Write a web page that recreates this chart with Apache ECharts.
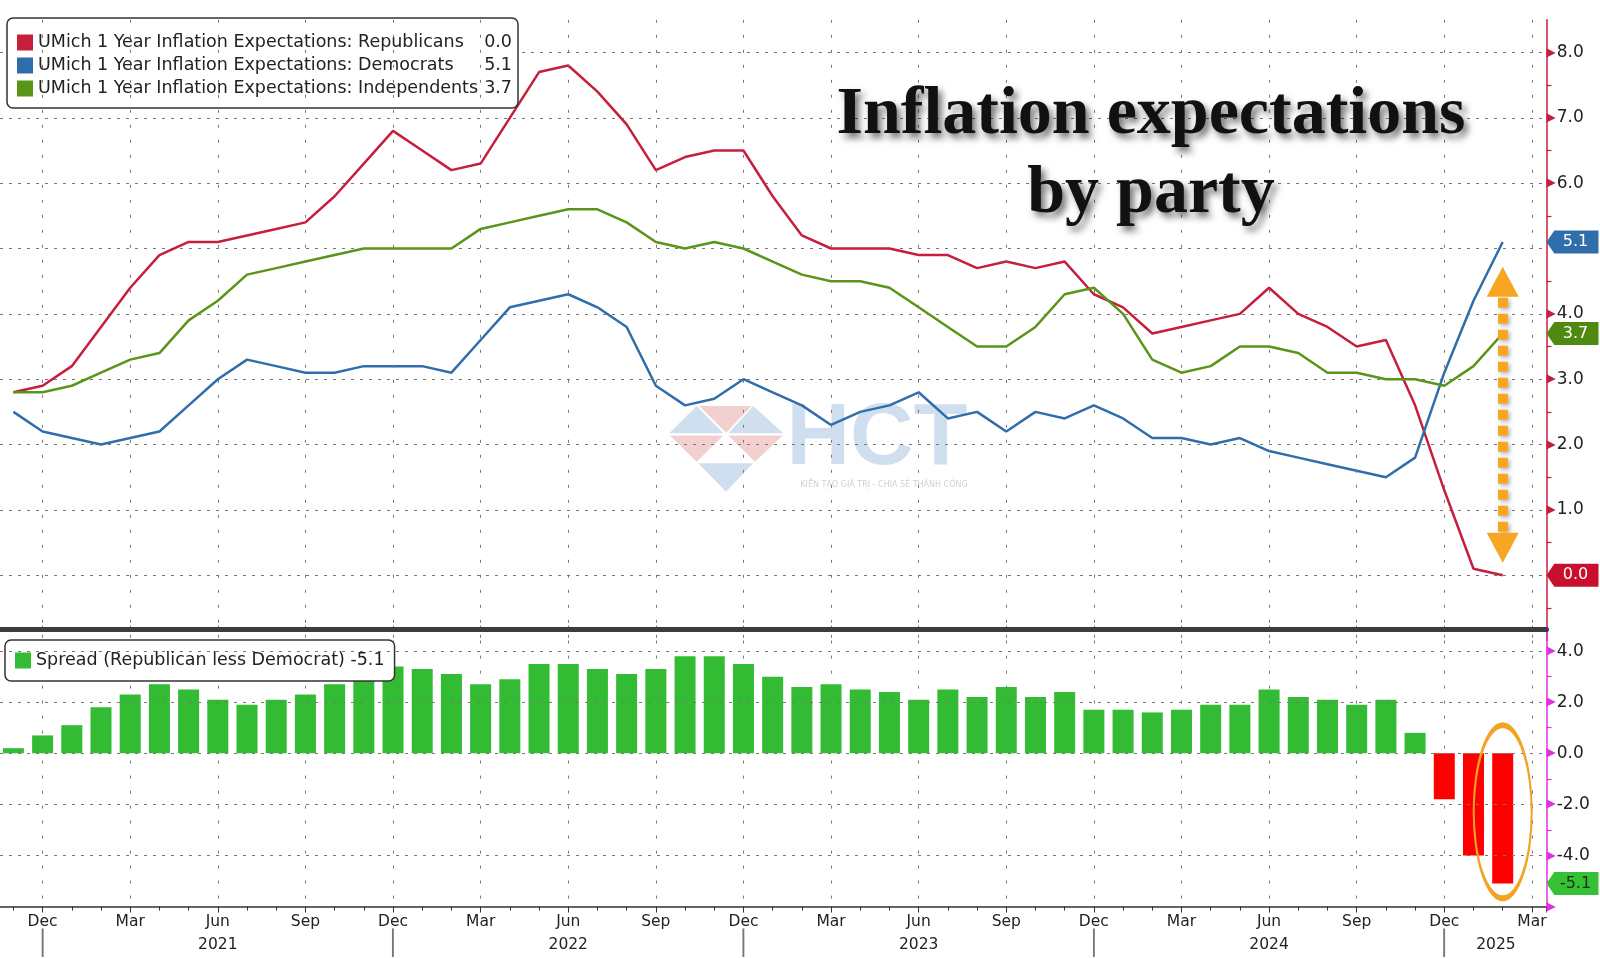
<!DOCTYPE html>
<html>
<head>
<meta charset="utf-8">
<script src="https://cdn.jsdelivr.net/npm/echarts@6/dist/echarts.min.js"></script>
<style>html,body{margin:0;padding:0;background:#fff}#c{width:1600px;height:958px}</style>
</head>
<body>
<div id="c"></div>
<script>
// ---- data (monthly, Nov 2020 .. Feb 2025) ----
const monthNames = ['Jan','Feb','Mar','Apr','May','Jun','Jul','Aug','Sep','Oct','Nov','Dec'];
const firstMonth = { year: 2020, month: 10 }; // Nov 2020 (0-based month)
const republicans = [2.8, 2.9,
  3.2, 3.8, 4.4, 4.9, 5.1, 5.1, 5.2, 5.3, 5.4, 5.8, 6.3, 6.8,
  6.5, 6.2, 6.3, 7.0, 7.7, 7.8, 7.4, 6.9, 6.2, 6.4, 6.5, 6.5,
  5.8, 5.2, 5.0, 5.0, 5.0, 4.9, 4.9, 4.7, 4.8, 4.7, 4.8, 4.3,
  4.1, 3.7, 3.8, 3.9, 4.0, 4.4, 4.0, 3.8, 3.5, 3.6, 2.6, 1.3,
  0.1, 0.0];
const democrats = [2.5, 2.2,
  2.1, 2.0, 2.1, 2.2, 2.6, 3.0, 3.3, 3.2, 3.1, 3.1, 3.2, 3.2,
  3.2, 3.1, 3.6, 4.1, 4.2, 4.3, 4.1, 3.8, 2.9, 2.6, 2.7, 3.0,
  2.8, 2.6, 2.3, 2.5, 2.6, 2.8, 2.4, 2.5, 2.2, 2.5, 2.4, 2.6,
  2.4, 2.1, 2.1, 2.0, 2.1, 1.9, 1.8, 1.7, 1.6, 1.5, 1.8, 3.1,
  4.2, 5.1];
const independents = [2.8, 2.8,
  2.9, 3.1, 3.3, 3.4, 3.9, 4.2, 4.6, 4.7, 4.8, 4.9, 5.0, 5.0,
  5.0, 5.0, 5.3, 5.4, 5.5, 5.6, 5.6, 5.4, 5.1, 5.0, 5.1, 5.0,
  4.8, 4.6, 4.5, 4.5, 4.4, 4.1, 3.8, 3.5, 3.5, 3.8, 4.3, 4.4,
  4.0, 3.3, 3.1, 3.2, 3.5, 3.5, 3.4, 3.1, 3.1, 3.0, 3.0, 2.9,
  3.2, 3.7];
const spread = [0.2, 0.7,
  1.1, 1.8, 2.3, 2.7, 2.5, 2.1, 1.9, 2.1, 2.3, 2.7, 3.0, 3.4,
  3.3, 3.1, 2.7, 2.9, 3.5, 3.5, 3.3, 3.1, 3.3, 3.8, 3.8, 3.5,
  3.0, 2.6, 2.7, 2.5, 2.4, 2.1, 2.5, 2.2, 2.6, 2.2, 2.4, 1.7,
  1.7, 1.6, 1.7, 1.9, 1.9, 2.5, 2.2, 2.1, 1.9, 2.1, 0.8, -1.8,
  -4.0, -5.1];
const lineNames = [
  'UMich 1 Year Inflation Expectations: Republicans',
  'UMich 1 Year Inflation Expectations: Democrats',
  'UMich 1 Year Inflation Expectations: Independents'
];
const spreadName = 'Spread (Republican less Democrat)';
const titleLines = ['Inflation expectations', 'by party'];

// ---- axis helpers: x value = months since Sep 2020 ----
const axisOrigin = { year: 2020, month: 8 };
const xOffset = (firstMonth.year - axisOrigin.year) * 12 + firstMonth.month - axisOrigin.month;
const xMin = 0, xMax = 54.5;
const toXY = arr => arr.map((v, i) => [i + xOffset, v]);
const last = arr => arr[arr.length - 1];
const lastX = republicans.length - 1 + xOffset;

const FONT = 'DejaVu Sans';
const C_RED = '#c51f3c', C_BLUE = '#2f6eaa', C_GREEN = '#5a9419';
const TAG = 'path://M0,11 L9,0 L60,0 L60,22 L9,22 Z';

function xLabel(v) {
  if (!Number.isInteger(v)) return '';
  const m = (axisOrigin.month + v) % 12;
  const y = axisOrigin.year + Math.floor((axisOrigin.month + v) / 12);
  const n = monthNames[m];
  if (m === 11) return n + '\n{sep|\u2502}';
  if (m === 5) return n + '\n{yr|' + y + '}';
  if (v === 54) return n + '\n{yr2|' + y + '}';
  return n;
}
function tag(series, color, textColor) {
  return {
    coord: [xMax, last(series)], value: last(series),
    symbol: TAG, symbolSize: [52, 23], symbolOffset: ['50%', 0],
    itemStyle: { color: color },
    label: { show: true, position: 'inside', offset: [3, 0], color: textColor || '#fff',
      fontSize: 16, fontFamily: FONT, formatter: p => Number(p.value).toFixed(1) }
  };
}
const legendVals = {};
legendVals[lineNames[0]] = last(republicans).toFixed(1);
legendVals[lineNames[1]] = last(democrats).toFixed(1);
legendVals[lineNames[2]] = last(independents).toFixed(1);
legendVals[spreadName] = last(spread).toFixed(1);

const dotH = { color: '#777', width: 1, type: [3, 6] };
const dotV = { color: '#777', width: 1, type: [3, 12] };
const LFS = 17.5;

const chart = echarts.init(document.getElementById('c'), null, { renderer: 'canvas' });
chart.setOption({
  animation: false,
  backgroundColor: '#fff',
  textStyle: { fontFamily: FONT },
  grid: [
    { left: -45, top: 19.8, width: 1591.5, height: 620.8, outerBoundsMode: 'none', containLabel: false },
    { left: -45, top: 625.6, width: 1591.5, height: 280.9, outerBoundsMode: 'none', containLabel: false }
  ],
  xAxis: [
    { type: 'value', gridIndex: 0, min: xMin, max: xMax, interval: 3, z: 6,
      axisLine: { show: true, onZero: false, lineStyle: { color: '#3c3c3c', width: 5 } },
      offset: -11.6,
      axisTick: { show: false }, axisLabel: { show: false },
      splitLine: { show: true, lineStyle: dotV, showMinLine: false, showMaxLine: false } },
    { type: 'value', gridIndex: 1, min: xMin, max: xMax, interval: 3,
      axisLine: { show: true, onZero: false, lineStyle: { color: '#333', width: 1.5 } },
      axisTick: { show: true, length: 6, lineStyle: { color: '#333' } },
      minorTick: { show: true, splitNumber: 3, length: 4, lineStyle: { color: '#333' } },
      axisLabel: { show: true, margin: 4, fontSize: 15.5, color: '#222', lineHeight: 23,
        showMaxLabel: false, showMinLabel: false, formatter: xLabel,
        rich: {
          sep: { fontSize: 24, color: '#777', lineHeight: 23 },
          yr: { fontSize: 15.5, color: '#222', lineHeight: 23 },
          yr2: { fontSize: 15.5, color: '#222', lineHeight: 23, padding: [0, 72, 0, 0] }
        } },
      splitLine: { show: true, lineStyle: dotV, showMinLine: false, showMaxLine: false } }
  ],
  yAxis: [
    { type: 'value', gridIndex: 0, position: 'right', min: -1, max: 8.5, interval: 1, z: 2,
      axisLine: { show: true, onZero: false, lineStyle: { color: C_RED, width: 1.5 } },
      axisTick: { show: false },
      minorTick: { show: true, splitNumber: 2, length: 5, lineStyle: { color: C_RED, width: 1.2 } },
      axisLabel: { show: true, margin: 0, showMinLabel: false, showMaxLabel: false,
        formatter: v => (Number.isInteger(v) && v >= 1 && v <= 8 && v !== 5) ? '{t|\u25B6}{v|' + v.toFixed(1) + '}' : '',
        rich: { t: { color: C_RED, fontSize: 12, padding: [0, 1, 0, 0] },
                v: { color: '#222', fontSize: 17, fontFamily: FONT } } },
      splitLine: { show: true, lineStyle: dotH, showMinLine: false, showMaxLine: false } },
    { type: 'value', gridIndex: 1, position: 'right', min: -6, max: 5, interval: 2, z: 4,
      axisLine: { show: true, onZero: false, lineStyle: { color: '#e030e0', width: 1.5 } },
      axisTick: { show: false },
      minorTick: { show: true, splitNumber: 2, length: 5, lineStyle: { color: '#e030e0', width: 1.2 } },
      axisLabel: { show: true, margin: 0, showMaxLabel: false,
        formatter: v => v === -6 ? '{t|\u25B6}' : ((v >= -4 && v <= 4) ? '{t|\u25B6}{v|' + v.toFixed(1) + '}' : ''),
        rich: { t: { color: '#e030e0', fontSize: 12, padding: [0, 1, 0, 0] },
                v: { color: '#222', fontSize: 17, fontFamily: FONT } } },
      splitLine: { show: true, lineStyle: dotH, showMinLine: false, showMaxLine: false } }
  ],
  legend: [
    { data: lineNames, left: 7, top: 18, orient: 'vertical', icon: 'rect',
      itemWidth: 16, itemHeight: 16, itemGap: 0, padding: [13, 6, 8, 10],
      backgroundColor: '#fff', borderColor: '#333', borderWidth: 1.5, borderRadius: 6,
      selectedMode: false,
      formatter: n => '{n|' + n + '}{v|' + legendVals[n] + '}',
      textStyle: { fontFamily: FONT, fontSize: LFS, color: '#222', lineHeight: 23,
        rich: { n: { width: 442, fontSize: LFS, fontFamily: FONT, color: '#222', lineHeight: 23 },
                v: { width: 32, align: 'right', fontSize: LFS, fontFamily: FONT, color: '#222', lineHeight: 23 } } } },
    { data: [spreadName], left: 5, top: 640, orient: 'vertical', icon: 'rect',
      itemWidth: 16, itemHeight: 16, padding: [10, 10, 10, 10],
      backgroundColor: '#fff', borderColor: '#333', borderWidth: 1.5, borderRadius: 6,
      selectedMode: false,
      formatter: n => n + ' ' + legendVals[n],
      textStyle: { fontFamily: FONT, fontSize: LFS, color: '#222', lineHeight: 21 } }
  ],
  graphic: [
    // watermark
    { type: 'polygon', z: 1, silent: true, shape: { points: [[696.7,406],[669.3,433.3],[723.3,433.3]] }, style: { fill: 'rgba(150,185,222,0.45)' } },
    { type: 'polygon', z: 1, silent: true, shape: { points: [[699.3,406],[751.7,406],[726,432.7]] }, style: { fill: 'rgba(226,150,150,0.45)' } },
    { type: 'polygon', z: 1, silent: true, shape: { points: [[753.3,406],[783.3,433.3],[728.3,433.3]] }, style: { fill: 'rgba(150,185,222,0.45)' } },
    { type: 'polygon', z: 1, silent: true, shape: { points: [[670,435.5],[723.3,435.5],[696.7,461.7]] }, style: { fill: 'rgba(226,150,150,0.45)' } },
    { type: 'polygon', z: 1, silent: true, shape: { points: [[728.3,435.5],[782.7,435.5],[755,461.7]] }, style: { fill: 'rgba(226,150,150,0.45)' } },
    { type: 'polygon', z: 1, silent: true, shape: { points: [[698.3,463.3],[753.3,463.3],[726,491.7]] }, style: { fill: 'rgba(150,185,222,0.45)' } },
    { type: 'text', z: 1, silent: true, x: 877, y: 440,
      style: { text: 'HCT', font: 'bold 88px "Liberation Sans"', fill: 'rgba(150,185,222,0.45)', align: 'center', verticalAlign: 'middle', textAlign: 'center', textVerticalAlign: 'middle' } },
    { type: 'text', z: 1, silent: true, x: 884, y: 485,
      style: { text: 'KIẾN TẠO GIÁ TRỊ - CHIA SẺ THÀNH CÔNG', font: '8px "DejaVu Sans"', fill: 'rgba(150,150,150,0.45)', align: 'center', verticalAlign: 'middle', textAlign: 'center', textVerticalAlign: 'middle' } },
    // title
    { type: 'text', z: 20, silent: true, x: 1151, y: 115,
      style: { text: titleLines[0], font: 'bold 68px "Liberation Serif"', fill: '#111',
        align: 'center', verticalAlign: 'middle', textAlign: 'center', textVerticalAlign: 'middle',
        textShadowColor: 'rgba(0,0,0,0.55)', textShadowBlur: 7, textShadowOffsetX: 4, textShadowOffsetY: 5 } },
    { type: 'text', z: 20, silent: true, x: 1151, y: 194,
      style: { text: titleLines[1], font: 'bold 68px "Liberation Serif"', fill: '#111',
        align: 'center', verticalAlign: 'middle', textAlign: 'center', textVerticalAlign: 'middle',
        textShadowColor: 'rgba(0,0,0,0.55)', textShadowBlur: 7, textShadowOffsetX: 4, textShadowOffsetY: 5 } }
  ],
  series: [
    { name: lineNames[0], type: 'line', xAxisIndex: 0, yAxisIndex: 0, data: toXY(republicans),
      showSymbol: false, symbol: 'none', color: C_RED, lineStyle: { width: 2.5, color: C_RED }, z: 3,
      markPoint: { silent: true, data: [tag(republicans, '#c8102e')] } },
    { name: lineNames[1], type: 'line', xAxisIndex: 0, yAxisIndex: 0, data: toXY(democrats),
      showSymbol: false, symbol: 'none', color: C_BLUE, lineStyle: { width: 2.5, color: C_BLUE }, z: 3,
      markPoint: { silent: true, data: [tag(democrats, '#2f6eaa')] },
      markLine: { silent: true, symbol: ['triangle', 'triangle'], symbolSize: [32, 30],
        label: { show: false },
        lineStyle: { color: '#f6a623', width: 10, type: [10, 6], shadowBlur: 4, shadowColor: 'rgba(0,0,0,0.3)', shadowOffsetX: 2, shadowOffsetY: 2 },
        itemStyle: { color: '#f6a623' },
        data: [[{ coord: [lastX, 4.49] }, { coord: [lastX, 0.42] }]] } },
    { name: lineNames[2], type: 'line', xAxisIndex: 0, yAxisIndex: 0, data: toXY(independents),
      showSymbol: false, symbol: 'none', color: C_GREEN, lineStyle: { width: 2.5, color: C_GREEN }, z: 3,
      markPoint: { silent: true, data: [tag(independents, '#4f8a10')] } },
    { name: spreadName, type: 'bar', xAxisIndex: 1, yAxisIndex: 1, barWidth: 21, color: '#33bb33',
      itemStyle: { color: '#33bb33' },
      data: spread.map((v, i) => v < 0 ? { value: [i + xOffset, v], itemStyle: { color: '#ff0000' } } : { value: [i + xOffset, v] }),
      markPoint: { silent: true, data: [
        tag(spread, '#35c035', '#143314'),
        { coord: [lastX, -2.29], symbol: 'circle', symbolSize: [58, 173],
          itemStyle: { color: 'rgba(0,0,0,0)', borderColor: '#f2a321', borderWidth: 3.5 },
          label: { show: false } }
      ] } }
  ]
});
</script>
</body>
</html>
